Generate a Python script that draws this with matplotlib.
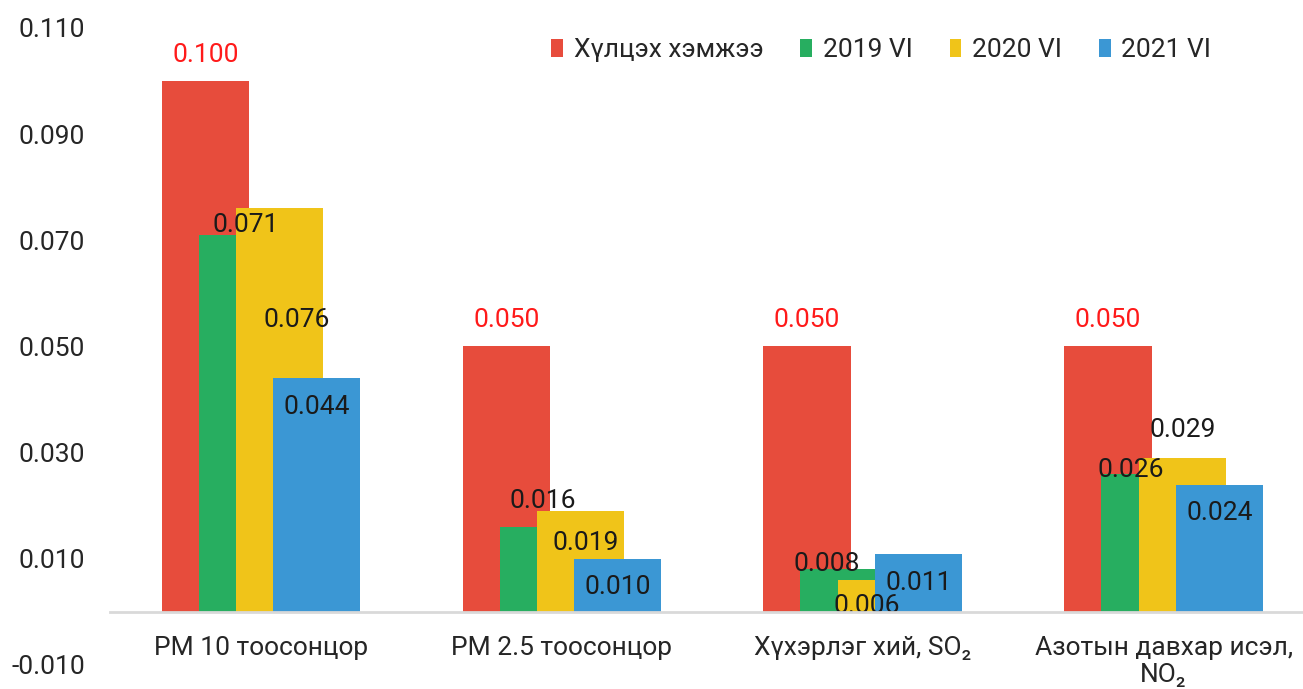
import matplotlib
matplotlib.use('Agg')
import matplotlib.pyplot as plt
import numpy as np

plt.rcParams['font.family'] = ['Roboto', 'DejaVu Sans']

# Data
categories = ['PM 10 тоосонцор', 'PM 2.5 тоосонцор', 'Хүхэрлэг хий, SO₂', 'Азотын давхар исэл,\nNO₂']
series_names = ['Хүлцэх хэмжээ', '2019 VI', '2020 VI', '2021 VI']
limit_vals = [0.100, 0.050, 0.050, 0.050]
vals_2019 = [0.071, 0.016, 0.008, 0.026]
vals_2020 = [0.076, 0.019, 0.006, 0.029]
vals_2021 = [0.044, 0.010, 0.011, 0.024]

# Layout / style
colors = ['#E74C3C', '#27AE60', '#F0C419', '#3B97D4']
label_colors = ['#FF1A1A', '#1a1a1a', '#1a1a1a', '#1a1a1a']
fs = 19
bar_width = 0.29
offsets = [-0.185, -0.062, 0.062, 0.185]
# manual label nudges (dx in category units, dy in data units) per series per category
label_dx = [[0, 0, 0, 0],
            [0.01, 0, -0.057, -0.047],
            [0.057, 0.017, -0.05, 0.003],
            [0, 0, 0, 0.003]]
label_dy = [[0.0049, 0.005, 0.005, 0.005],
            [0.0019, 0.0049, 0.001, 0.0007],
            [-0.021, -0.006, -0.0049, 0.0053],
            [-0.0054, -0.0053, -0.0055, -0.0054]]

series = [limit_vals, vals_2019, vals_2020, vals_2021]
x = np.arange(len(categories))

fig = plt.figure(figsize=(13.03, 6.89), dpi=100)
ax = fig.add_axes([110 / 1303, 24 / 689, 1192 / 1303, 637 / 689])

for i, (vals, name) in enumerate(zip(series, series_names)):
    ax.bar(x + offsets[i], vals, width=bar_width, color=colors[i], label=name,
           zorder=2 + i)
    for j, v in enumerate(vals):
        ax.text(x[j] + offsets[i] + label_dx[i][j], v + label_dy[i][j], f'{v:.3f}',
                ha='center', va='center', fontsize=fs, color=label_colors[i],
                zorder=10)

ax.set_ylim(-0.010, 0.110)
ax.set_xlim(-0.502, 3.46)
ticks = np.arange(-0.010, 0.111, 0.020)
ax.set_yticks(ticks)
ax.set_yticklabels([f'{t:.3f}' for t in ticks])
ax.set_xticks(x)
ax.set_xticklabels(categories, linespacing=1.3)

for s in ['top', 'right', 'left']:
    ax.spines[s].set_visible(False)
ax.spines['bottom'].set_position(('data', 0))
ax.spines['bottom'].set_color('#D9D9D9')
ax.spines['bottom'].set_linewidth(2)
ax.spines['bottom'].set_zorder(20)

ax.tick_params(axis='y', length=0, pad=18, labelsize=fs, labelcolor='#262626')
ax.tick_params(axis='x', length=0, pad=17, labelsize=fs, labelcolor='#262626')

leg = ax.legend(loc='upper right', bbox_to_anchor=(0.935, 1.005), ncol=4, frameon=False,
                fontsize=fs, handlelength=0.45, handleheight=0.7, handletextpad=0.4,
                columnspacing=1.4, borderaxespad=0.1)
for t in leg.get_texts():
    t.set_color('#262626')

fig.savefig('out.png', dpi=100)
